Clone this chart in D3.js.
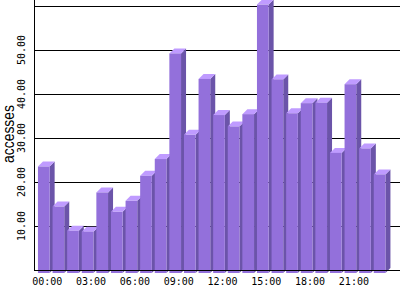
<!DOCTYPE html>
<html>
<head>
<meta charset="utf-8">
<script src="https://cdn.jsdelivr.net/npm/d3@7"></script>
<style>
  body { margin: 0; background: #fff; }
  svg { display: block; }
</style>
</head>
<body>
<div id="vis"></div>
<script>
// Frame size
const FRAME_WIDTH = 400;
const FRAME_HEIGHT = 300;

// Data: average accesses per hour
const HOURS = ["00:00", "01:00", "02:00", "03:00", "04:00", "05:00",
               "06:00", "07:00", "08:00", "09:00", "10:00", "11:00",
               "12:00", "13:00", "14:00", "15:00", "16:00", "17:00",
               "18:00", "19:00", "20:00", "21:00", "22:00", "23:00"];
const ACCESSES = [24.2, 15.1, 9.6, 9.4, 18.3, 13.9, 16.4, 22.1, 25.9, 49.9, 31.4, 44.1,
                  35.9, 33.3, 36.1, 61.0, 44.0, 36.3, 38.6, 38.7, 27.3, 42.9, 28.3, 22.4];
const X_TICKS = ["00:00", "03:00", "06:00", "09:00", "12:00", "15:00", "18:00", "21:00"];
const Y_GRID = [0, 10, 20, 30, 40, 50, 60];
const Y_LABELS = [10, 20, 30, 40, 50];

// 3d look: front face pushed down, depth goes up-right
const DEPTH_X = 5;
const DEPTH_Y = 5;
const SHIFT_Y = 3;

const FRAME = d3.select("#vis")
  .append("svg")
    .attr("width", FRAME_WIDTH)
    .attr("height", FRAME_HEIGHT);

// Scales
const X_SCALE = d3.scaleBand()
  .domain(HOURS)
  .range([36.5, 386.9])
  .paddingInner(0.2)
  .paddingOuter(0.1);

const Y_SCALE = d3.scaleLinear()
  .domain([0, 60])
  .range([270, 6]);

const AXIS_X = 34;

// Grid lines (behind the bars)
FRAME.selectAll(".grid")
  .data(Y_GRID)
  .enter()
  .append("line")
    .attr("x1", AXIS_X)
    .attr("x2", FRAME_WIDTH)
    .attr("y1", (d) => Y_SCALE(d) + 0.5)
    .attr("y2", (d) => Y_SCALE(d) + 0.5)
    .attr("stroke", "#000")
    .attr("stroke-width", 1)
    .attr("shape-rendering", "crispEdges");

// Bars
const bw = X_SCALE.bandwidth();
const bottom = Y_SCALE(0) + SHIFT_Y;

const bars = FRAME.selectAll(".bar")
  .data(ACCESSES)
  .enter()
  .append("g")
    .attr("class", "bar");

bars.append("polygon")
  .attr("points", (d, i) => {
    const x = X_SCALE(HOURS[i]) + bw;
    const t = Y_SCALE(d) + SHIFT_Y;
    return [[x, t], [x + DEPTH_X, t - DEPTH_Y], [x + DEPTH_X, bottom - DEPTH_Y], [x, bottom]].join(" ");
  })
  .attr("fill", "#6b54a9");

bars.append("polygon")
  .attr("points", (d, i) => {
    const x = X_SCALE(HOURS[i]);
    const t = Y_SCALE(d) + SHIFT_Y;
    return [[x, t], [x + DEPTH_X, t - DEPTH_Y], [x + bw + DEPTH_X, t - DEPTH_Y], [x + bw, t]].join(" ");
  })
  .attr("fill", "#bf9bff");

bars.append("rect")
  .attr("x", (d, i) => X_SCALE(HOURS[i]))
  .attr("y", (d) => Y_SCALE(d) + SHIFT_Y)
  .attr("width", bw)
  .attr("height", (d) => bottom - (Y_SCALE(d) + SHIFT_Y))
  .attr("fill", "#9370db");

// Axis lines
FRAME.append("line")
  .attr("x1", AXIS_X + 0.5).attr("x2", AXIS_X + 0.5)
  .attr("y1", 0).attr("y2", Y_SCALE(0) + 1)
  .attr("stroke", "#000")
  .attr("shape-rendering", "crispEdges");

FRAME.append("line")
  .attr("x1", AXIS_X).attr("x2", FRAME_WIDTH)
  .attr("y1", Y_SCALE(0) + 0.5).attr("y2", Y_SCALE(0) + 0.5)
  .attr("stroke", "#000")
  .attr("shape-rendering", "crispEdges");

// X labels
FRAME.selectAll(".xlab")
  .data(X_TICKS)
  .enter()
  .append("text")
    .attr("x", (d) => X_SCALE(d) + bw / 2 + 3.5)
    .attr("y", 285)
    .attr("text-anchor", "middle")
    .attr("font-family", "DejaVu Sans Mono, monospace")
    .attr("font-size", "10px")
    .attr("fill", "#000")
    .text((d) => d);

// Y labels, rotated
FRAME.selectAll(".ylab")
  .data(Y_LABELS)
  .enter()
  .append("text")
    .attr("transform", (d) => "translate(25," + Y_SCALE(d) + ") rotate(-90)")
    .attr("text-anchor", "middle")
    .attr("font-family", "DejaVu Sans Mono, monospace")
    .attr("font-size", "10px")
    .attr("fill", "#000")
    .text((d) => d3.format(".2f")(d));

// Axis title
FRAME.append("text")
  .attr("transform", "translate(14,134) rotate(-90)")
  .attr("text-anchor", "middle")
  .attr("font-family", "Liberation Sans, Arial, sans-serif")
  .attr("font-size", "17px")
  .attr("textLength", 58)
  .attr("lengthAdjust", "spacingAndGlyphs")
  .attr("fill", "#000")
  .text("accesses");
</script>
</body>
</html>
